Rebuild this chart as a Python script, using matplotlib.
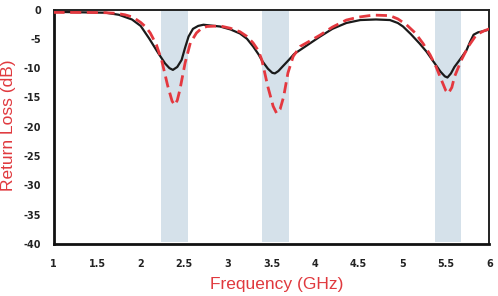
import matplotlib
matplotlib.use("Agg")
import matplotlib.pyplot as plt

# ---- data ----
freq_sim = [1.0, 1.2, 1.4, 1.6, 1.75, 1.9, 2.0, 2.1, 2.2, 2.28, 2.33, 2.37, 2.42, 2.47,
            2.51, 2.55, 2.6, 2.66, 2.72, 2.91, 3.03, 3.14, 3.22, 3.29, 3.35, 3.40, 3.46,
            3.51, 3.54, 3.58, 3.63, 3.70, 3.76, 3.83, 3.95, 4.06, 4.2, 4.36, 4.52, 4.7,
            4.86, 4.95, 5.01, 5.1, 5.2, 5.28, 5.36, 5.44, 5.49, 5.52, 5.56, 5.60, 5.67,
            5.74, 5.78, 5.82, 5.87, 5.93, 6.0]
rl_sim = [-0.4, -0.45, -0.5, -0.55, -0.9, -1.7, -2.8, -5.0, -7.4, -9.2, -10.0, -10.3, -9.8, -8.6,
          -6.5, -4.6, -3.3, -2.8, -2.6, -2.9, -3.4, -4.1, -5.0, -6.3, -7.6, -8.9, -10.1,
          -10.8, -10.9, -10.5, -9.7, -8.6, -7.6, -6.9, -5.7, -4.6, -3.3, -2.3, -1.8, -1.7,
          -1.8, -2.3, -2.9, -4.2, -5.8, -7.2, -8.9, -10.6, -11.4, -11.6, -10.9, -9.8, -8.4,
          -6.9, -5.5, -4.3, -3.9, -3.7, -3.4]

freq_meas = [1.0, 1.2, 1.4, 1.6, 1.72, 1.82, 1.91, 2.0, 2.06, 2.11, 2.18, 2.24, 2.31, 2.36,
             2.39, 2.42, 2.45, 2.51, 2.57, 2.64, 2.7, 2.76, 2.91, 3.03, 3.14, 3.22, 3.29,
             3.35, 3.39, 3.46, 3.52, 3.56, 3.6, 3.64, 3.69, 3.75, 3.83, 3.95, 4.06, 4.2,
             4.36, 4.5, 4.67, 4.86, 4.95, 5.05, 5.15, 5.24, 5.32, 5.39, 5.45, 5.5, 5.53,
             5.57, 5.60, 5.68, 5.76, 5.85, 5.93, 6.0]
rl_meas = [-0.5, -0.5, -0.5, -0.55, -0.65, -0.9, -1.3, -2.2, -3.0, -4.0, -6.0, -8.6, -13.0, -15.6,
           -16.3, -15.5, -13.7, -9.1, -5.7, -4.0, -3.2, -2.9, -2.8, -3.2, -3.8, -4.6, -5.7,
           -7.0, -8.6, -13.2, -16.5, -17.7, -17.0, -14.9, -10.8, -8.0, -6.3, -5.3, -4.35, -3.0,
           -1.8, -1.3, -0.95, -1.05, -1.6, -2.6, -4.0, -5.8, -7.7, -9.8, -12.0, -13.8, -14.3,
           -13.3, -11.5, -8.6, -6.3, -4.35, -3.7, -3.3]

band_start = [2.23, 3.39, 5.375]
band_end = [2.54, 3.70, 5.68]

xticks = [1, 1.5, 2, 2.5, 3, 3.5, 4, 4.5, 5, 5.5, 6]
xtick_labels = ["1", "1.5", "2", "2.5", "3", "3.5", "4", "4.5", "5", "5.5", "6"]
yticks = [0, -5, -10, -15, -20, -25, -30, -35, -40]
ytick_labels = ["0", "-5", "-10", "-15", "-20", "-25", "-30", "-35", "-40"]

red = "#E0393E"

fig = plt.figure(figsize=(4.98, 2.96), dpi=100)
ax = fig.add_axes([53.5 / 498, 1 - 244 / 296, (489.3 - 53.5) / 498, (244 - 9.5) / 296])

for s, e in zip(band_start, band_end):
    ax.axvspan(s, e, ymin=0.01, ymax=1, color="#D5E1EA", lw=0, zorder=1)

ax.plot(freq_sim, rl_sim, color="#1a1a1a", lw=1.6, zorder=3, solid_joinstyle="round")
ax.plot(freq_meas, rl_meas, color="#E4383F", lw=2.0, zorder=4,
        dashes=(4.0, 2.0))

ax.set_xlim(1, 6)
ax.set_ylim(-40, 0)
ax.set_xticks(xticks)
ax.set_xticklabels(xtick_labels)
ax.set_yticks(yticks)
ax.set_yticklabels(ytick_labels)
ax.tick_params(axis="both", length=0)
ax.tick_params(axis="x", pad=11)
ax.tick_params(axis="y", pad=9)
for lab in ax.get_xticklabels() + ax.get_yticklabels():
    lab.set_fontfamily("DejaVu Sans")
    lab.set_fontweight("bold")
    lab.set_fontsize(6.9)
    lab.set_color("#222222")

for side in ["left", "bottom"]:
    ax.spines[side].set_linewidth(2.0)
    ax.spines[side].set_color("#111111")
for side in ["top", "right"]:
    ax.spines[side].set_linewidth(1.4)
    ax.spines[side].set_color("#222222")

fig.text(276.5 / 498, 1 - 285 / 296, "Frequency (GHz)", ha="center", va="center",
         color=red, fontsize=12.5, family="Liberation Sans")
fig.text(9 / 498, 1 - 125 / 296, "Return Loss (dB)", ha="center", va="center",
         rotation=90, color=red, fontsize=12.5, family="Liberation Sans")

fig.savefig("out.png", dpi=100)
